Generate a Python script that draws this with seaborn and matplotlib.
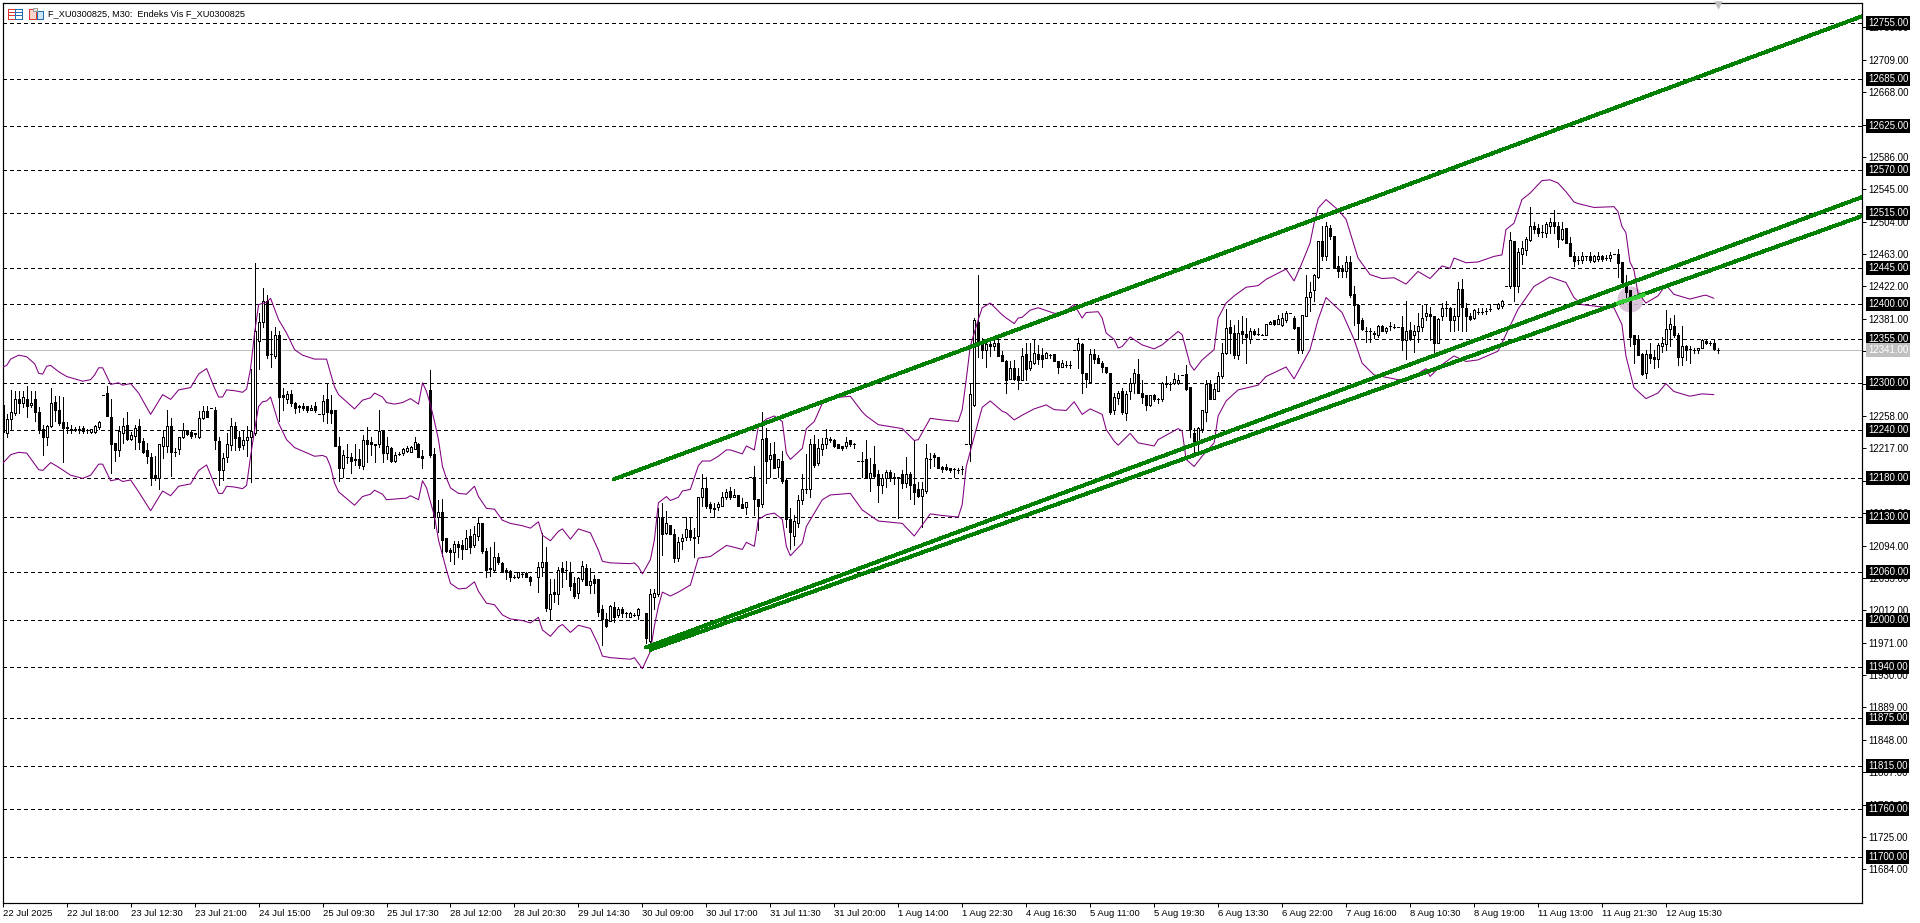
import matplotlib
matplotlib.use('Agg')
import matplotlib.pyplot as plt
from matplotlib.patches import Rectangle
from matplotlib.transforms import Affine2D
import pandas as pd
import seaborn as sns

# MT5 chart, one candle row is (open, high, low, close), blocks follow the time labels
GAP = (None, None, None, None)

jul22_a = [(12272,12272,12236,12238),(12236,12261,12232,12254),(12254,12291,12242,12263),(12262,12289,12259,12280),
           (12279,12289,12262,12274),(12274,12290,12269,12282),(12280,12296,12257,12270),(12272,12289,12269,12275),
           (12279,12289,12251,12263),(12263,12269,12237,12241),(12241,12247,12209,12231),(12231,12246,12221,12245),
           (12245,12294,12244,12275),(12276,12283,12252,12265),(12265,12283,12247,12249),(12250,12282,12200,12243)]
jul22_b = [(12244,12250,12236,12243),(12241,12246,12237,12240),(12241,12244,12239,12240),(12240,12245,12237,12241),
           (12243,12245,12237,12239),(12240,12241,12236,12240),(12238,12242,12236,12241),(12238,12247,12237,12245),
           (12244,12251,12241,12250),(12285,12285,12285,12285),(12287,12296,12258,12258),(12257,12280,12186,12222),
           (12224,12224,12201,12215),(12215,12245,12207,12239),(12237,12256,12224,12245),(12246,12263,12228,12229)]
jul23_a = [(12229,12238,12228,12234),(12233,12247,12216,12243),(12245,12254,12216,12225),(12226,12230,12211,12212),
           (12215,12224,12198,12207),(12206,12211,12170,12180),(12183,12207,12177,12180),(12180,12223,12165,12222),
           (12220,12240,12205,12231),(12220,12266,12212,12245),(12245,12255,12182,12212),(12213,12217,12207,12212),
           (12216,12231,12210,12231),(12231,12249,12230,12240),(12240,12240,12234,12235),(12238,12240,12230,12233)]
jul23_b = [(12236,12237,12231,12235),(12232,12264,12230,12255),(12255,12270,12254,12264),(12264,12271,12257,12257),
           (12268,12268,12268,12268),(12266,12269,12216,12228),(12226,12231,12170,12190),(12190,12211,12177,12205),
           (12206,12236,12200,12222),(12221,12255,12215,12245),(12245,12250,12215,12230),(12231,12239,12215,12219),
           (12221,12239,12216,12228),(12227,12245,12207,12231),(12231,12318,12175,12239),(12236,12452,12234,12365)]
jul24 = [(12353,12389,12318,12377),(12377,12420,12371,12403),(12404,12411,12332,12335),(12337,12366,12320,12337),
         (12334,12371,12332,12361),(12361,12365,12251,12282),(12284,12294,12266,12282),(12280,12290,12275,12286),
         (12286,12291,12270,12275),(12275,12276,12262,12268),(12270,12272,12263,12269),(12271,12275,12266,12268),
         (12271,12271,12263,12265),(12266,12272,12265,12268),(12270,12276,12263,12266),(12261,12261,12261,12261)]
jul25_a = [(12261,12285,12251,12277),(12279,12298,12249,12263),(12265,12284,12249,12262),(12265,12265,12220,12220),
           (12220,12232,12176,12192),(12192,12215,12181,12208),(12206,12222,12199,12206),(12206,12211,12186,12201),
           (12203,12222,12196,12202),(12204,12216,12192,12196),(12195,12234,12191,12227),(12227,12244,12200,12222),
           (12225,12232,12209,12223),(12222,12222,12200,12221),(12222,12266,12219,12239),(12239,12239,12200,12211)]
jul25_b = [(12211,12232,12204,12220),(12218,12219,12200,12201),(12201,12213,12200,12209),(12210,12213,12208,12210),
           (12211,12218,12208,12216),(12214,12220,12213,12218),(12213,12220,12213,12219),(12216,12232,12216,12225),
           (12223,12224,12206,12206),(12207,12215,12192,12205),GAP,(12291,12316,12206,12209),
           (12210,12218,12116,12130),(12130,12151,12111,12137),(12137,12153,12081,12101),(12103,12103,12086,12087)]
jul28_a = [(12088,12091,12075,12086),(12086,12100,12071,12096),(12096,12100,12080,12092),(12095,12101,12077,12090),
           (12090,12114,12090,12104),(12106,12115,12084,12092),(12095,12119,12092,12108),(12106,12130,12101,12123),
           (12122,12123,12085,12087),(12087,12091,12054,12063),(12065,12092,12056,12064),(12063,12099,12062,12080),
           (12080,12084,12070,12073),(12072,12073,12061,12062),(12063,12065,12051,12061),(12062,12063,12049,12054)]
jul28_b = [(12054,12057,12053,12054),(12054,12061,12053,12060),(12058,12060,12054,12058),(12059,12061,12054,12054),
           (12054,12056,12044,12049),GAP,(12054,12073,12035,12067),(12067,12110,12056,12073),
           (12073,12092,12011,12015),(12013,12051,12001,12033),(12035,12051,12022,12033),(12033,12067,12020,12063),
           (12065,12073,12042,12060),(12063,12075,12051,12063),(12061,12073,12038,12043),(12046,12054,12028,12030)]
jul29 = [(12034,12054,12028,12053),(12051,12075,12049,12068),(12066,12071,12044,12044),(12044,12066,12034,12049),
         (12051,12057,12034,12047),(12051,12051,12005,12010),(12013,12019,11968,12001),(12001,12008,11991,11992),
         (11999,12019,11999,12018),(12016,12022,11997,12003),(12006,12016,12004,12013),(12013,12016,12003,12008),
         (12008,12010,12004,12008),(12004,12010,12004,12009),(12006,12009,12005,12006),(12006,12015,12001,12014)]
jul30_a = [GAP,(12008,12008,11971,11977),(11973,12039,11968,12032),(12029,12039,12013,12034),
           (12032,12142,12030,12130),(12129,12148,12082,12109),(12110,12138,12108,12122),(12120,12120,12108,12109),
           (12109,12115,12073,12078),(12078,12105,12075,12099),(12100,12108,12089,12104),(12105,12130,12101,12115),
           (12114,12130,12101,12105),(12103,12116,12080,12105),(12106,12156,12097,12156),(12156,12185,12144,12167)]
jul30_b = [(12167,12181,12142,12144),(12146,12149,12137,12141),(12141,12148,12130,12140),(12143,12149,12139,12146),
           (12144,12162,12144,12156),(12156,12166,12153,12162),(12163,12168,12153,12156),(12156,12165,12156,12158),
           (12158,12158,12144,12144),(12146,12154,12142,12142),(12143,12149,12134,12149),(12181,12181,12181,12181),
           (12181,12195,12132,12153),(12153,12153,12114,12144),(12146,12263,12143,12229),(12230,12243,12173,12201)]
jul31_a = [(12203,12224,12181,12209),(12210,12225,12192,12192),(12194,12204,12181,12203),(12201,12214,12173,12176),
           (12177,12179,12118,12128),(12128,12141,12089,12111),(12106,12133,12095,12125),(12123,12158,12118,12152),
           (12152,12184,12147,12165),(12165,12210,12161,12166),(12165,12229,12156,12222),(12222,12234,12194,12196),
           (12199,12229,12196,12218),(12216,12230,12208,12222),(12222,12242,12218,12230),(12229,12232,12225,12227)]
jul31_b = [(12228,12229,12219,12220),(12222,12222,12218,12218),(12220,12220,12215,12218),(12220,12232,12218,12225),
           (12227,12228,12220,12222),(12223,12224,12218,12223),(12201,12201,12201,12201),(12201,12213,12181,12201),
           (12204,12227,12179,12180),(12179,12205,12163,12186),(12197,12220,12180,12182),(12184,12190,12149,12170),
           (12170,12184,12160,12180),(12180,12190,12168,12187),(12187,12189,12176,12180),(12181,12186,12172,12180)]
aug01_a = [(12181,12181,12129,12180),(12184,12190,12167,12173),(12173,12206,12168,12185),(12185,12187,12153,12170),
           (12172,12227,12146,12162),(12165,12175,12156,12157),(12157,12175,12118,12166),(12163,12223,12160,12205),
           (12203,12211,12192,12203),(12209,12211,12195,12206),(12206,12206,12192,12192),(12194,12195,12187,12191),
           (12194,12197,12189,12191),(12192,12192,12187,12190),(12191,12192,12181,12191),(12190,12192,12186,12190)]
aug01_b = [(12191,12195,12184,12191),(12222,12222,12222,12222),(12223,12298,12201,12286),(12272,12382,12270,12380),
           (12377,12436,12333,12348),(12352,12357,12332,12341),(12341,12354,12320,12349),(12349,12357,12334,12346),
           (12346,12358,12341,12351),(12351,12354,12334,12334),(12335,12340,12327,12328),(12328,12329,12287,12304),
           (12305,12327,12305,12319),(12319,12329,12304,12305),(12308,12319,12292,12304),(12304,12344,12303,12334)]
aug04 = [(12337,12351,12304,12318),(12319,12351,12316,12327),(12325,12356,12324,12338),(12337,12348,12324,12330),
         (12335,12344,12320,12330),(12332,12339,12332,12338),(12335,12337,12332,12335),(12337,12337,12328,12328),
         (12328,12328,12313,12320),(12320,12329,12320,12325),(12323,12327,12320,12323),(12323,12327,12319,12323),
         (12342,12342,12342,12342),(12341,12357,12319,12351),(12349,12351,12287,12313),(12313,12313,12295,12305)]
aug05_a = [(12301,12343,12301,12337),(12337,12343,12325,12330),(12332,12335,12325,12325),(12325,12327,12314,12320),
           (12320,12320,12313,12314),(12313,12313,12260,12263),(12265,12287,12261,12282),(12281,12289,12273,12287),
           (12289,12294,12261,12263),(12262,12289,12253,12286),(12289,12306,12279,12300),(12300,12317,12287,12313),
           (12311,12330,12287,12287),(12287,12304,12275,12282),(12284,12284,12266,12272),(12272,12285,12271,12284)]
aug05_b = [(12284,12286,12277,12279),(12280,12281,12275,12280),(12279,12301,12277,12300),(12300,12308,12295,12298),
           (12299,12301,12291,12299),(12300,12313,12299,12305),(12300,12310,12298,12303),(12310,12310,12310,12310),
           (12311,12323,12291,12292),(12295,12295,12231,12241),(12237,12243,12211,12224),(12225,12244,12213,12243),
           (12241,12266,12238,12265),(12263,12304,12251,12298),(12298,12304,12279,12280),(12280,12298,12279,12292)]
aug06_a = [(12290,12314,12289,12308),(12308,12351,12306,12338),(12338,12394,12337,12370),(12371,12380,12338,12363),
           (12363,12373,12332,12335),(12335,12380,12330,12363),(12365,12385,12351,12362),(12362,12382,12325,12358),
           (12356,12370,12351,12366),(12366,12368,12360,12362),(12362,12370,12360,12362),(12361,12362,12360,12361),
           (12361,12375,12361,12375),(12375,12378,12375,12377),(12379,12380,12373,12375),(12375,12386,12374,12381)]
aug06_b = [(12373,12389,12372,12382),(12379,12391,12377,12389),(12389,12389,12389,12389),(12382,12385,12368,12370),
           (12371,12371,12338,12342),(12341,12386,12338,12386),(12385,12437,12384,12409),(12409,12427,12391,12415),
           (12417,12438,12403,12436),(12434,12480,12433,12480),(12480,12498,12456,12460),(12460,12504,12456,12499),
           (12496,12500,12482,12486),(12486,12486,12446,12447),(12448,12461,12434,12441),(12444,12449,12434,12442)]
aug07 = [(12442,12460,12434,12453),(12453,12460,12409,12411),(12413,12423,12373,12399),(12399,12400,12356,12376),
         (12379,12382,12367,12368),(12366,12371,12352,12366),(12366,12370,12352,12366),(12363,12365,12357,12362),
         (12360,12373,12358,12372),(12372,12373,12365,12366),(12365,12371,12363,12370),(12372,12377,12367,12372),
         (12371,12375,12370,12371),(12371,12371,12371,12371),(12371,12385,12342,12354),(12354,12404,12330,12366)]
aug08_a = [(12367,12377,12354,12356),(12360,12373,12339,12365),(12365,12389,12352,12372),(12371,12399,12365,12382),
           (12384,12398,12379,12389),(12387,12396,12354,12384),(12384,12384,12338,12351),(12351,12382,12351,12381),
           (12384,12401,12380,12395),(12395,12403,12384,12395),(12395,12396,12365,12380),(12380,12395,12365,12385),
           (12384,12427,12367,12419),(12419,12432,12365,12396),(12395,12401,12365,12384),(12385,12389,12379,12381)]
aug08_b = [(12382,12394,12381,12392),(12390,12395,12387,12390),(12390,12395,12387,12390),(12391,12395,12387,12391),
           (12394,12400,12391,12394),(12400,12400,12400,12400),(12395,12401,12394,12400),(12397,12405,12395,12403),
           (12423,12423,12423,12423),(12422,12491,12420,12481),(12480,12480,12403,12422),(12422,12471,12415,12465),
           (12463,12479,12451,12471),(12468,12485,12462,12482),(12481,12523,12480,12499),(12499,12504,12490,12495)]
aug11_a = [(12496,12501,12486,12490),(12491,12500,12485,12491),(12490,12503,12484,12501),(12499,12509,12490,12504),
           (12504,12519,12490,12499),(12498,12504,12472,12482),(12482,12503,12481,12495),(12496,12496,12477,12477),
           (12477,12484,12460,12460),(12461,12465,12448,12454),(12456,12460,12451,12456),(12456,12466,12452,12461),
           (12460,12461,12456,12460),(12461,12466,12453,12456),(12454,12462,12453,12461),(12457,12465,12454,12461)]
aug11_b = [(12461,12462,12454,12457),(12458,12462,12456,12458),(12458,12465,12454,12462),(12463,12463,12463,12463),
           (12463,12470,12434,12452),(12453,12453,12423,12427),(12428,12436,12403,12415),(12417,12418,12346,12358),
           (12360,12361,12325,12349),(12356,12361,12335,12335),(12337,12338,12310,12311),(12313,12341,12306,12337),
           (12337,12351,12325,12332),(12333,12342,12319,12330),(12330,12351,12320,12348),(12346,12358,12339,12351)]
aug12 = [(12349,12392,12342,12368),(12368,12382,12346,12375),(12372,12386,12358,12360),(12361,12363,12323,12333),
         (12333,12372,12323,12347),(12346,12348,12329,12341),(12343,12346,12325,12343),(12342,12344,12338,12342),
         (12341,12344,12338,12344),(12344,12356,12344,12354),(12353,12356,12349,12351),(12351,12353,12348,12351),
         (12351,12356,12342,12343),(12342,12344,12338,12342)]

# Bollinger envelopes, (bar number, price) at each bend
upper_band = [(0,12320),(1,12322),(2,12330),(4,12335),(6,12333),(8,12324),(9,12312),(10,12311),(11,12321),(12,12322),
              (14,12314),(16,12308),(20,12302),(22,12304),(23,12310),(24,12319),(25,12319),(27,12298),(29,12300),
              (30,12297),(32,12299),(34,12287),(37,12260),(40,12285),(42,12279),(44,12291),(47,12294),(49,12311),
              (51,12318),(53,12293),(54,12282),(55,12282),(56,12291),(58,12290),(60,12288),(61,12292),(62,12318),
              (63,12363),(64,12399),(66,12402),(67,12407),(69,12380),(71,12363),(73,12342),(75,12335),(78,12330),
              (81,12330),(82,12312),(83,12295),(84,12285),(86,12276),(88,12267),(90,12278),(92,12281),(93,12287),
              (95,12282),(96,12275),(98,12273),(100,12275),(102,12280),(104,12273),(105,12300),(106,12289),(107,12272),
              (108,12251),(109,12228),(110,12194),(111,12179),(112,12167),(114,12160),(116,12159),(118,12169),
              (119,12156),(121,12141),(123,12140),(125,12126),(127,12122),(130,12119),(132,12116),(134,12124),
              (135,12107),(137,12100),(139,12112),(140,12115),(142,12102),(144,12115),(147,12110),(149,12088),
              (150,12074),(152,12072),(157,12071),(158,12072),(159,12067),(160,12058),(162,12076),(163,12101),
              (164,12148),(165,12152),(166,12156),(167,12151),(169,12155),(170,12163),(172,12165),(174,12195),
              (175,12201),(177,12201),(179,12207),(181,12215),(182,12215),(185,12210),(186,12220),(188,12215),
              (189,12245),(191,12254),(193,12258),(195,12251),(196,12211),(197,12203),(200,12217),(201,12242),
              (203,12251),(205,12274),(207,12281),(210,12282),(212,12283),(215,12263),(216,12258),(219,12247),
              (225,12242),(228,12227),(229,12228),(232,12255),(235,12253),(239,12251),(240,12266),(241,12304),
              (242,12346),(244,12380),(245,12395),(247,12401),(250,12386),(251,12382),(253,12375),(254,12382),
              (255,12383),(257,12392),(259,12395),(263,12388),(265,12388),(268,12399),(270,12382),(271,12389),
              (274,12390),(275,12382),(276,12363),(278,12355),(279,12344),(280,12346),(282,12358),(285,12348),
              (288,12343),(290,12348),(294,12365),(295,12361),(297,12323),(298,12316),(300,12329),(303,12342),
              (304,12382),(306,12401),(308,12410),(311,12421),(314,12423),(316,12431),(321,12444),(323,12429),
              (325,12452),(327,12477),(328,12502),(329,12521),(331,12532),(334,12519),(336,12507),(339,12458),
              (342,12437),(345,12432),(348,12433),(351,12425),(354,12441),(357,12432),(360,12448),(362,12445),
              (363,12458),(366,12452),(369,12453),(373,12460),(375,12462),(376,12494),(378,12502),(380,12532),
              (382,12540),(385,12556),(387,12557),(389,12553),(391,12542),(393,12529),(394,12527),(398,12522),
              (403,12523),(404,12517),(405,12498),(406,12490),(407,12453),(408,12443),(409,12414),(411,12401),
              (414,12410),(416,12424),(418,12412),(422,12406),(425,12410),(426,12411),(428,12407)]
lower_band = [(0,12198),(2,12209),(4,12212),(6,12211),(9,12190),(10,12189),(12,12199),(14,12193),(17,12183),(20,12179),
              (22,12183),(24,12197),(25,12197),(27,12176),(29,12178),(30,12175),(32,12177),(34,12162),(37,12138),
              (40,12163),(42,12157),(44,12169),(47,12172),(49,12189),(51,12196),(53,12171),(54,12160),(55,12160),
              (56,12169),(58,12168),(60,12166),(61,12170),(62,12207),(63,12240),(64,12270),(65,12276),(66,12277),
              (67,12282),(69,12249),(71,12228),(73,12218),(78,12207),(80,12208),(81,12206),(82,12194),(83,12173),
              (84,12162),(88,12145),(90,12156),(92,12159),(93,12164),(95,12159),(96,12152),(101,12154),(102,12157),
              (104,12152),(105,12176),(106,12167),(108,12131),(109,12101),(111,12063),(112,12046),(114,12039),
              (116,12040),(118,12048),(119,12036),(121,12021),(123,12019),(125,12006),(127,12001),(130,11999),
              (132,11996),(134,12003),(135,11987),(137,11979),(139,11991),(140,11994),(142,11984),(144,11993),
              (147,11989),(149,11968),(150,11954),(152,11952),(157,11950),(158,11952),(160,11938),(162,11960),
              (163,11992),(164,12017),(165,12035),(167,12030),(169,12035),(172,12044),(174,12078),(177,12080),
              (181,12094),(182,12093),(185,12089),(186,12098),(188,12093),(189,12127),(191,12133),(193,12135),
              (195,12127),(196,12093),(197,12081),(200,12097),(201,12118),(205,12152),(207,12158),(212,12160),
              (215,12139),(219,12125),(225,12122),(228,12106),(232,12134),(235,12132),(239,12130),(240,12146),
              (241,12194),(243,12232),(245,12269),(247,12277),(250,12264),(251,12262),(253,12253),(255,12259),
              (258,12267),(261,12272),(263,12266),(266,12265),(268,12276),(270,12260),(272,12267),(275,12260),
              (276,12241),(278,12226),(279,12221),(282,12236),(284,12224),(288,12220),(289,12228),(294,12242),
              (295,12239),(296,12203),(298,12194),(300,12207),(303,12224),(304,12258),(306,12277),(309,12291),
              (314,12297),(316,12308),(321,12320),(323,12305),(327,12342),(329,12380),(331,12408),(335,12389),
              (338,12355),(340,12325),(343,12310),(349,12304),(351,12302),(356,12318),(357,12308),(360,12323),
              (363,12334),(366,12327),(369,12329),(374,12340),(379,12393),(383,12422),(387,12434),(391,12427),
              (393,12408),(395,12399),(400,12396),(403,12395),(405,12374),(406,12334),(408,12294),(411,12280),
              (414,12287),(416,12299),(418,12289),(422,12283),(425,12286),(428,12285)]

# Drawn objects
trend_top = [(152.9, 12178), (465, 12764)]
trend_mid = [(160.9, 11965), (465, 12535)]
trend_low = [(162, 11962), (465, 12511)]
trend_selected = [(404, 12401), (410.5, 12411)]
selected_point = (407, 12406)
last_marker = (429, 12778)

levels = [12755, 12685, 12625, 12570, 12515, 12445, 12400, 12355, 12300, 12240, 12180, 12130, 12060, 12000,
          11940, 11875, 11815, 11760, 11700]
bid_price = 12341
price_ticks = [12750, 12709, 12668, 12627, 12586, 12545, 12504, 12463, 12422, 12381, 12340, 12299, 12258, 12217,
               12176, 12135, 12094, 12053, 12012, 11971, 11930, 11889, 11848, 11807, 11766, 11725, 11684]
time_labels = ['22 Jul 2025', '22 Jul 18:00', '23 Jul 12:30', '23 Jul 21:00', '24 Jul 15:00', '25 Jul 09:30',
               '25 Jul 17:30', '28 Jul 12:00', '28 Jul 20:30', '29 Jul 14:30', '30 Jul 09:00', '30 Jul 17:00',
               '31 Jul 11:30', '31 Jul 20:00', '1 Aug 14:00', '1 Aug 22:30', '4 Aug 16:30', '5 Aug 11:00',
               '5 Aug 19:30', '6 Aug 13:30', '6 Aug 22:00', '7 Aug 16:00', '8 Aug 10:30', '8 Aug 19:00',
               '11 Aug 13:00', '11 Aug 21:30', '12 Aug 15:30']
title_text = 'F_XU0300825, M30:  Endeks Vis F_XU0300825'

rows = (jul22_a + jul22_b + jul23_a + jul23_b + jul24 + jul25_a + jul25_b + jul28_a + jul28_b + jul29 + jul30_a
        + jul30_b + jul31_a + jul31_b + aug01_a + aug01_b + aug04 + aug05_a + aug05_b + aug06_a + aug06_b + aug07
        + aug08_a + aug08_b + aug11_a + aug11_b + aug12)
df = pd.DataFrame(rows, columns=['open', 'high', 'low', 'close'], dtype=float)
df['bar'] = df.index
df = df.dropna()

sns.set_theme(style='white')
plt.rcParams['font.family'] = ['Liberation Sans', 'DejaVu Sans']

PX = 0.72  # one screen pixel in points at dpi 100
W, H = 1920, 923
fig = plt.figure(figsize=(W / 100, H / 100), dpi=100)
ax = fig.add_axes([2.5 / W, (H - 902.5) / H, 1859.5 / W, 900 / H])

# Dashed levels and bid line
for lv in levels:
    ax.axhline(lv, color='black', lw=PX, ls=(0, (4, 3)), antialiased=False, zorder=1)
ax.axhline(bid_price, color='#c0c0c0', lw=PX, antialiased=False, zorder=1)

# Selected anchor behind the candles
ax.scatter(*selected_point, s=350, color='#d8bfd8', linewidths=0, alpha=0.9, zorder=1.5)

# Candles
ax.vlines(df['bar'], df['low'], df['high'], color='black', lw=PX, antialiased=False, zorder=2)
up = df['close'] >= df['open']
bottom = df[['open', 'close']].min(axis=1)
height = (df['close'] - df['open']).abs()
ax.bar(df['bar'][up], height[up], bottom=bottom[up], width=0.5, facecolor='white', edgecolor='black',
       linewidth=PX, antialiased=False, zorder=2.1)
ax.bar(df['bar'][~up], height[~up], bottom=bottom[~up], width=0.5, facecolor='black', edgecolor='black',
       linewidth=PX, antialiased=False, zorder=2.1)

# Bands
for band in (upper_band, lower_band):
    band_df = pd.DataFrame(band, columns=['bar', 'price'])
    sns.lineplot(data=band_df, x='bar', y='price', color='#800080', linewidth=PX * 1.05, estimator=None, sort=False,
                 legend=False, ax=ax, zorder=3)

# Channel lines
for line in (trend_top, trend_mid, trend_low):
    line_df = pd.DataFrame(line, columns=['bar', 'price'])
    sns.lineplot(data=line_df, x='bar', y='price', color='#008000', linewidth=PX * 2.9, estimator=None, sort=False,
                 legend=False, ax=ax, zorder=4, antialiased=False)
sel_df = pd.DataFrame(trend_selected, columns=['bar', 'price'])
sns.lineplot(data=sel_df, x='bar', y='price', color='#32cd32', linewidth=PX * 2.9, estimator=None, sort=False,
             legend=False, ax=ax, zorder=4.1, antialiased=False)

ax.scatter(*last_marker, marker='v', s=38, color='#c0c0c0', linewidths=0, zorder=5, clip_on=False)

ax.set_xlim(-0.05, 465.05)
ax.set_ylim(11642, 12781.5)
ax.set_xlabel('')
ax.set_ylabel('')

for side in ax.spines.values():
    side.set_color('black')
    side.set_linewidth(PX * 1.2)

ax.yaxis.tick_right()
ax.set_yticks(price_ticks)
ax.set_yticklabels([f'{v}.00' for v in price_ticks])
ax.set_xticks(range(0, 16 * len(time_labels), 16))
ax.set_xticklabels(time_labels, ha='left')
ax.tick_params(axis='y', which='major', length=4 * PX, width=PX, color='black', labelsize=7,
               labelcolor='black', right=True, pad=1.5)
ax.tick_params(axis='x', which='major', length=4 * PX, width=PX, color='black', labelsize=6.8,
               labelcolor='black', bottom=True, pad=1.5)

# Level and bid boxes on the price scale
for lv, box in [(v, 'black') for v in levels] + [(bid_price, '#c0c0c0')]:
    ax.annotate(f'{lv}.00', xy=(1, lv), xycoords=('axes fraction', 'data'), xytext=(4.2, 0),
                textcoords='offset points', ha='left', va='center', color='white', fontsize=7,
                bbox=dict(boxstyle='square,pad=0.2', fc=box, ec='none'), annotation_clip=False, zorder=10)

# Window header
fig.text(48 / W, 1 - 13.5 / H, title_text, fontsize=6.6, color='black', ha='left', va='center')
px_tr = Affine2D().scale(1, -1).translate(0, H)
icon_parts = [(7.5, 8.5, 7, 10, 'none', '#e0382c'), (14.5, 8.5, 7, 10, 'none', '#1f6fb5'),
              (28.5, 8.5, 7, 10, '#fbd5cc', '#e0382c'), (36.5, 10.5, 6, 8, '#cfe6f7', '#1f6fb5')]
for x0, y0, w, h, face, edge in icon_parts:
    fig.add_artist(Rectangle((x0, y0), w, h, transform=px_tr, fc=face, ec=edge, lw=PX, antialiased=False))
for ly in (11.5, 14.5):
    fig.add_artist(plt.Line2D([8, 14], [ly, ly], transform=px_tr, color='#e0382c', lw=PX, antialiased=False))
    fig.add_artist(plt.Line2D([15, 21], [ly, ly], transform=px_tr, color='#1f6fb5', lw=PX, antialiased=False))
fig.add_artist(Rectangle((33, 7.5), 4, 3, transform=px_tr, fc='#e8e8e8', ec='#a0a0a0', lw=PX, antialiased=False))

fig.savefig('out.png', dpi=100)
